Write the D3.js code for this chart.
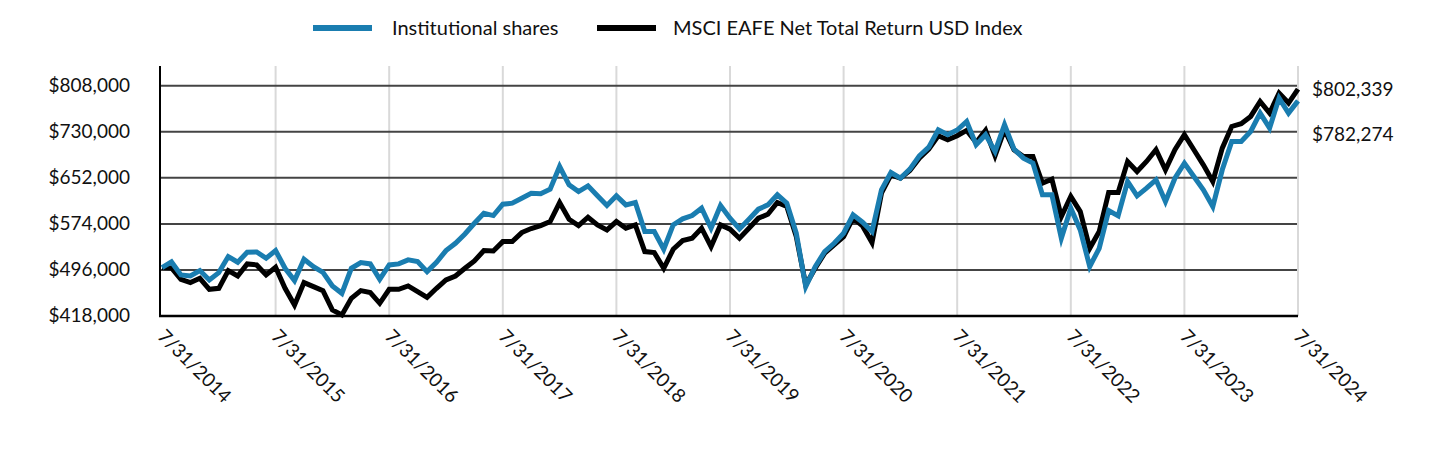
<!DOCTYPE html>
<html>
<head>
<meta charset="utf-8">
<script src="https://cdn.jsdelivr.net/npm/d3@7"></script>
<style>
  body { margin: 0; background: #fff; }
  text { font-family: "Source Sans Pro", Lato, "Noto Sans", sans-serif; fill: #111; }
</style>
</head>
<body>
<div class="chart"></div>
<script>
var tickLabels = ["7/31/2014", "7/31/2015", "7/31/2016", "7/31/2017", "7/31/2018", "7/31/2019",
  "7/31/2020", "7/31/2021", "7/31/2022", "7/31/2023", "7/31/2024"];

var yTicks = [418000, 496000, 574000, 652000, 730000, 808000];

// month-end values, 7/31/2014 .. 7/31/2024
var institutional = [
  500000, 509600, 487500, 485800, 494900, 479000, 491500, 518600, 509000, 526000, 526500, 515800,
  528800, 498800, 477900, 514100, 501600, 492000, 468900, 456400, 498800, 508400, 506200, 480200,
  504500, 506200, 513000, 510100, 493200, 509000, 528800, 541200, 557000, 575100, 592100, 588100,
  607300, 609100, 617500, 626000, 624900, 632800, 671200, 640100, 628800, 638400, 621500, 605100,
  621500, 606200, 610200, 561000, 561000, 531000, 572300, 582500, 588100, 600600, 566700, 605000,
  583600, 565500, 581900, 598900, 606200, 623200, 609100, 558200, 467700, 501600, 527100, 541200,
  558200, 589300, 576800, 561000, 631700, 661000, 651400, 666700, 689300, 704000, 733400, 724900,
  733000, 747500, 708000, 724900, 696700, 741900, 700600, 685300, 676900, 623200, 623200, 549700,
  600600, 563800, 501600, 532700, 596600, 587600, 645800, 621500, 634500, 648600, 611900, 651400,
  676900, 654300, 631700, 603400, 665600, 713600, 713600, 730600, 761700, 736200, 787100, 761700,
  782274
];

var msciEafe = [
  500000, 499400, 480200, 474500, 481900, 463200, 464900, 494900, 485800, 506200, 504500, 487500,
  500500, 464900, 436600, 474500, 467700, 461000, 428200, 419700, 448000, 461000, 457600, 439500,
  463200, 463200, 468900, 459300, 449600, 464900, 479000, 485800, 498800, 511300, 528800, 528200,
  544000, 544000, 559300, 566100, 571200, 578000, 610200, 581900, 571200, 585300, 572300, 563800,
  578000, 566700, 572300, 527100, 525400, 498800, 531000, 545700, 549700, 566700, 535600, 572300,
  565000, 549700, 566700, 583600, 590400, 610200, 603400, 552500, 470600, 498800, 524300, 538400,
  552500, 583600, 570600, 542300, 626000, 657100, 651400, 664400, 685300, 700600, 723200, 716400,
  723200, 732300, 711900, 732300, 689300, 733400, 699500, 688200, 688200, 643000, 649700, 586400,
  620300, 594900, 532700, 561000, 627100, 627100, 679700, 662700, 679700, 699500, 665600, 699500,
  724900, 699500, 674000, 645800, 702300, 739000, 743600, 756000, 781400, 761700, 795600, 778600,
  802339
];

var seriesNames = ["Institutional shares", "MSCI EAFE Net Total Return USD Index"];
var seriesColors = ["#1a7db0", "#000000"];

var W = 1440, H = 456;
var plotLeft = 160, plotRight = 1298, plotTop = 66, plotBottom = 316;
var fontSize = 19;

var x = d3.scaleLinear()
  .domain([0, institutional.length - 1])
  .range([162, plotRight]);

var y = d3.scaleLinear()
  .domain([418000, 841400])
  .range([plotBottom, plotTop]);

var fmt = d3.format("$,");

var svg = d3.select(".chart").append("svg")
    .attr("width", W)
    .attr("height", H);

// vertical year gridlines
svg.append("g")
  .selectAll("line")
  .data(tickLabels.slice(1))
  .enter().append("line")
    .attr("x1", function (d, i) { return x((i + 1) * 12); })
    .attr("x2", function (d, i) { return x((i + 1) * 12); })
    .attr("y1", plotTop)
    .attr("y2", plotBottom)
    .style("stroke", "#d9d9d9")
    .style("stroke-width", 2);

// horizontal gridlines
svg.append("g")
  .selectAll("line")
  .data(yTicks.slice(1))
  .enter().append("line")
    .attr("x1", plotLeft)
    .attr("x2", plotRight - 1)
    .attr("y1", function (d) { return y(d); })
    .attr("y2", function (d) { return y(d); })
    .style("stroke", "#444")
    .style("stroke-width", 2);

// y labels
svg.append("g")
  .selectAll("text")
  .data(yTicks)
  .enter().append("text")
    .attr("x", 130)
    .attr("y", function (d) { return y(d); })
    .attr("dy", "0.34em")
    .style("text-anchor", "end")
    .style("font-size", fontSize + "px")
    .text(function (d) { return fmt(d); });

// x labels, rotated
svg.append("g")
  .selectAll("text")
  .data(tickLabels)
  .enter().append("text")
    .attr("transform", function (d, i) {
      return "translate(" + (x(i * 12) + 4) + "," + (plotBottom + 12) + ") rotate(45)";
    })
    .attr("dy", "0.7em")
    .style("text-anchor", "start")
    .style("font-size", fontSize + "px")
    .text(function (d) { return d; });

// axis lines
svg.append("line")
  .attr("x1", plotLeft).attr("x2", plotLeft)
  .attr("y1", plotTop).attr("y2", plotBottom + 1)
  .style("stroke", "#000").style("stroke-width", 2);

svg.append("line")
  .attr("x1", plotLeft - 1).attr("x2", plotRight)
  .attr("y1", plotBottom).attr("y2", plotBottom)
  .style("stroke", "#000").style("stroke-width", 2.5);

var line = d3.line()
  .x(function (d, i) { return x(i); })
  .y(function (d) { return y(d); });

svg.append("path")
  .datum(msciEafe)
  .attr("d", line)
  .style("fill", "none")
  .style("stroke", seriesColors[1])
  .style("stroke-width", 5);

svg.append("path")
  .datum(institutional)
  .attr("d", line)
  .style("fill", "none")
  .style("stroke", seriesColors[0])
  .style("stroke-width", 5);

// end value labels
var lastI = institutional[institutional.length - 1];
var lastM = msciEafe[msciEafe.length - 1];
svg.append("text")
  .attr("x", 1312).attr("y", y(lastM))
  .attr("dy", "0.34em")
  .style("font-size", fontSize + "px")
  .text(fmt(lastM));
svg.append("text")
  .attr("x", 1312).attr("y", y(lastM) + 45)
  .attr("dy", "0.34em")
  .style("font-size", fontSize + "px")
  .text(fmt(lastI));

// legend
var legend = [{ sx: 313, tx: 392 }, { sx: 597, tx: 673 }];
legend.forEach(function (l, i) {
  svg.append("rect")
    .attr("x", l.sx).attr("y", 25)
    .attr("width", 59).attr("height", 6)
    .style("fill", seriesColors[i]);
  svg.append("text")
    .attr("x", l.tx).attr("y", 28)
    .attr("dy", "0.34em")
    .style("font-size", "20px")
    .text(seriesNames[i]);
});
</script>
</body>
</html>
